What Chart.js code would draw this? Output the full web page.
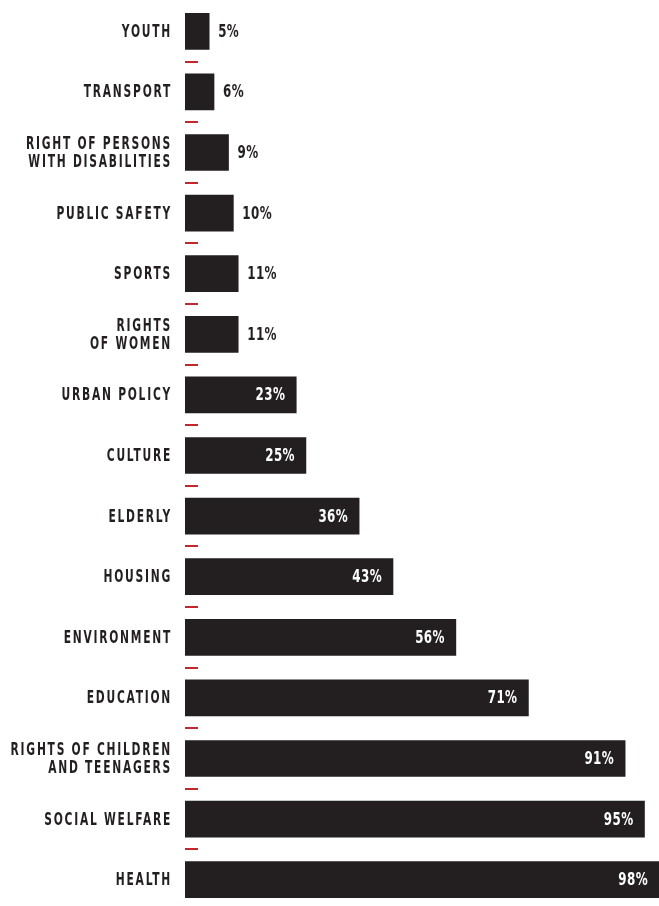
<!DOCTYPE html>
<html>
<head>
<meta charset="utf-8">
<script src="https://cdn.jsdelivr.net/npm/chart.js@4"></script>
<style>
  html, body { margin: 0; padding: 0; background: #fff; overflow: hidden; }
  canvas { display: block; }
</style>
</head>
<body>
<canvas id="areasChart" width="659" height="910"></canvas>
<script>
// categories, top to bottom (multi-line labels as arrays)
const categories = [
  ['YOUTH'],
  ['TRANSPORT'],
  ['RIGHT OF PERSONS', 'WITH DISABILITIES'],
  ['PUBLIC SAFETY'],
  ['SPORTS'],
  ['RIGHTS', 'OF WOMEN'],
  ['URBAN POLICY'],
  ['CULTURE'],
  ['ELDERLY'],
  ['HOUSING'],
  ['ENVIRONMENT'],
  ['EDUCATION'],
  ['RIGHTS OF CHILDREN', 'AND TEENAGERS'],
  ['SOCIAL WELFARE'],
  ['HEALTH']
];
const shares = [5, 6, 9, 10, 11, 11, 23, 25, 36, 43, 56, 71, 91, 95, 98];

const BAR = '#231f20';
const TICK = '#c1272d';
const FONT = '"Liberation Sans Narrow", "DejaVu Sans Condensed", sans-serif';

// condensed text: draw with a horizontal squeeze
function squeezed(ctx, text, x, y, sx, align) {
  ctx.save();
  ctx.translate(x, y);
  ctx.scale(sx, 1);
  ctx.textAlign = align;
  ctx.fillText(text, 0, 0);
  ctx.restore();
}

// labels, red separators and value tags
const labelPlugin = {
  id: 'labels',
  afterDatasetsDraw(chart) {
    const ctx = chart.ctx;
    const y = chart.scales.y;
    const x = chart.scales.x;
    const left = chart.chartArea.left;
    const band = y.getPixelForValue(1) - y.getPixelForValue(0);

    ctx.save();
    ctx.textBaseline = 'middle';
    categories.forEach((lines, i) => {
      const cy = y.getPixelForValue(i);

      // category name
      ctx.font = 'bold 17px ' + FONT;
      ctx.letterSpacing = '2.5px';
      ctx.fillStyle = BAR;
      const lh = 18;
      lines.forEach((t, k) => {
        const ty = cy + (k - (lines.length - 1) / 2) * lh + 1;
        squeezed(ctx, t, left - 13, ty, 0.7, 'right');
      });

      // red separator under each bar
      ctx.strokeStyle = TICK;
      ctx.lineWidth = 2;
      ctx.beginPath();
      ctx.moveTo(left, Math.round(cy + band / 2));
      ctx.lineTo(left + 13, Math.round(cy + band / 2));
      ctx.stroke();

      // value
      const v = shares[i];
      const end = x.getPixelForValue(v);
      ctx.font = 'bold 17px ' + FONT;
      ctx.letterSpacing = '0.5px';
      if (v >= 20) {
        ctx.fillStyle = '#ffffff';
        squeezed(ctx, v + '%', end - 11, cy + 1, 0.78, 'right');
      } else {
        ctx.fillStyle = BAR;
        squeezed(ctx, v + '%', end + 9, cy + 1, 0.78, 'left');
      }
    });
    ctx.restore();
  }
};

new Chart(document.getElementById('areasChart').getContext('2d'), {
  type: 'bar',
  data: {
    labels: categories,
    datasets: [{
      data: shares,
      backgroundColor: BAR,
      barThickness: 36,
      borderWidth: 0
    }]
  },
  options: {
    indexAxis: 'y',
    responsive: false,
    animation: false,
    devicePixelRatio: 1,
    layout: { padding: { left: 185, right: 0, top: 1, bottom: 0 } },
    plugins: {
      legend: { display: false },
      tooltip: { enabled: false }
    },
    scales: {
      x: { min: 0, max: 98, display: false },
      y: { display: false, offset: true }
    }
  },
  plugins: [labelPlugin]
});
</script>
</body>
</html>
